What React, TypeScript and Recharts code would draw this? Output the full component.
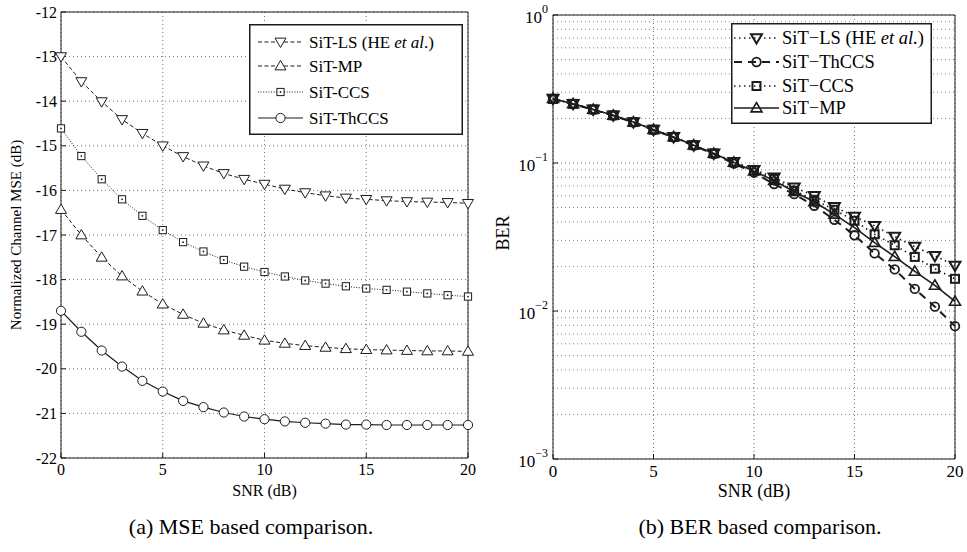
import React from "react";
import {
  CartesianGrid,
  Legend,
  Line,
  LineChart,
  ReferenceLine,
  XAxis,
  YAxis,
} from "recharts";

const FONT = "Liberation Serif, DejaVu Serif, Times New Roman, serif";
const INK = "#1c1c1c";

// SNR (dB) points
const snr = [0, 1, 2, 3, 4, 5, 6, 7, 8, 9, 10, 11, 12, 13, 14, 15, 16, 17, 18, 19, 20];

// (a) normalized channel MSE (dB)
const mseLs = [-13.0, -13.56, -14.01, -14.41, -14.72, -15.0, -15.24, -15.45, -15.62, -15.75, -15.86, -15.97, -16.05, -16.12, -16.17, -16.2, -16.23, -16.25, -16.26, -16.27, -16.29];
const mseMp = [-16.43, -17.0, -17.5, -17.92, -18.26, -18.55, -18.78, -18.98, -19.13, -19.25, -19.36, -19.43, -19.48, -19.52, -19.55, -19.57, -19.58, -19.59, -19.6, -19.6, -19.61];
const mseCcs = [-14.61, -15.23, -15.75, -16.2, -16.57, -16.89, -17.16, -17.37, -17.56, -17.71, -17.83, -17.93, -18.02, -18.09, -18.15, -18.2, -18.23, -18.27, -18.31, -18.35, -18.38];
const mseThccs = [-18.7, -19.17, -19.59, -19.95, -20.27, -20.51, -20.72, -20.86, -20.98, -21.07, -21.13, -21.18, -21.21, -21.23, -21.25, -21.25, -21.26, -21.26, -21.26, -21.26, -21.26];

// (b) BER
const berLs = [0.272, 0.251, 0.23, 0.21, 0.189, 0.168, 0.15, 0.132, 0.116, 0.102, 0.09, 0.08, 0.0684, 0.06, 0.0506, 0.0435, 0.0376, 0.0318, 0.0272, 0.0236, 0.0203];
const berThccs = [0.27, 0.25, 0.229, 0.209, 0.188, 0.167, 0.149, 0.131, 0.115, 0.099, 0.086, 0.072, 0.0616, 0.0514, 0.0413, 0.0325, 0.0245, 0.0191, 0.0141, 0.0107, 0.0079];
const berCcs = [0.271, 0.251, 0.23, 0.21, 0.189, 0.168, 0.15, 0.132, 0.116, 0.101, 0.089, 0.078, 0.065, 0.0564, 0.0483, 0.0407, 0.033, 0.0278, 0.0232, 0.0193, 0.0165];
const berMp = [0.272, 0.251, 0.23, 0.21, 0.189, 0.168, 0.15, 0.132, 0.116, 0.101, 0.088, 0.076, 0.064, 0.0547, 0.045, 0.0366, 0.029, 0.0233, 0.0185, 0.0149, 0.0116];

// axis ticks
const snrTicks = [0, 5, 10, 15, 20];
const mseTicks = [-22, -21, -20, -19, -18, -17, -16, -15, -14, -13, -12];
const berTicks = [0.001, 0.01, 0.1, 1];
const berMinor = [0.002, 0.003, 0.004, 0.005, 0.006, 0.007, 0.008, 0.009, 0.02, 0.03, 0.04, 0.05, 0.06, 0.07, 0.08, 0.09, 0.2, 0.3, 0.4, 0.5, 0.6, 0.7, 0.8, 0.9];

const mseData = snr.map((s, i) => ({ snr: s, ls: mseLs[i], mp: mseMp[i], ccs: mseCcs[i], thccs: mseThccs[i] }));
const berData = snr.map((s, i) => ({ snr: s, ls: berLs[i], thccs: berThccs[i], ccs: berCcs[i], mp: berMp[i] }));

type MarkerStyle = {
  shape: "down" | "up" | "square" | "circle";
  size: number;
  sw: number;
  fill: string;
  center?: boolean;
};

const Marker = ({ cx, cy, m }: { cx: number; cy: number; m: MarkerStyle }) => {
  const s = m.size;
  const common = { stroke: INK, strokeWidth: m.sw, fill: m.fill };
  if (m.shape === "circle") return <circle cx={cx} cy={cy} r={s} {...common} />;
  if (m.shape === "square")
    return (
      <g>
        <rect x={cx - s} y={cy - s} width={s * 2} height={s * 2} {...common} />
        {m.center && <circle cx={cx} cy={cy} r={0.9} fill={INK} />}
      </g>
    );
  const pts =
    m.shape === "down"
      ? `${cx - s},${cy - s * 0.7} ${cx + s},${cy - s * 0.7} ${cx},${cy + s * 1.0}`
      : `${cx - s},${cy + s * 0.7} ${cx + s},${cy + s * 0.7} ${cx},${cy - s * 1.0}`;
  return <polygon points={pts} strokeLinejoin="miter" {...common} />;
};

const dotFor = (m: MarkerStyle) => (p: any) =>
  p.cx == null ? <g key={p.index} /> : <g key={`d-${p.index}`}><Marker cx={p.cx} cy={p.cy} m={m} /></g>;

type Series = {
  key: string;
  label: React.ReactNode;
  dash?: string;
  width: number;
  marker: MarkerStyle;
};

const mseSeries: Series[] = [
  { key: "ls", label: <>SiT-LS (HE <tspan fontStyle="italic">et al</tspan>.)</>, dash: "4 2.5", width: 1, marker: { shape: "down", size: 5.5, sw: 1, fill: "#fff" } },
  { key: "mp", label: "SiT-MP", dash: "4 2.5", width: 1, marker: { shape: "up", size: 5.5, sw: 1, fill: "#fff" } },
  { key: "ccs", label: "SiT-CCS", dash: "1 1.6", width: 1, marker: { shape: "square", size: 3.6, sw: 1, fill: "#fff", center: true } },
  { key: "thccs", label: "SiT-ThCCS", width: 1.2, marker: { shape: "circle", size: 4.6, sw: 1, fill: "#fff" } },
];

const berSeries: Series[] = [
  { key: "ls", label: <>SiT−LS (HE  <tspan fontStyle="italic">et al.</tspan>)</>, dash: "1.5 3.5", width: 1.6, marker: { shape: "down", size: 5.5, sw: 2, fill: "none" } },
  { key: "thccs", label: "SiT−ThCCS", dash: "8 6", width: 2, marker: { shape: "circle", size: 4.3, sw: 1.8, fill: "none" } },
  { key: "ccs", label: "SiT−CCS", dash: "1.5 3.5", width: 1.6, marker: { shape: "square", size: 4, sw: 2, fill: "none" } },
  { key: "mp", label: "SiT−MP", width: 1.6, marker: { shape: "up", size: 5.5, sw: 1.6, fill: "none" } },
];

// legend box drawn as SVG (matlab style)
const LegendBox = ({ series, w, h, rows, x0, x1, tx, fontSize }: any) => (
  <svg width={w} height={h} style={{ display: "block" }}>
    <rect x={0.75} y={0.75} width={w - 1.5} height={h - 1.5} fill="#fff" stroke={INK} strokeWidth={1.5} />
    {series.map((s: Series, i: number) => {
      const y = rows[i];
      return (
        <g key={s.key}>
          <line x1={x0} x2={x1} y1={y} y2={y} stroke={INK} strokeWidth={s.width} strokeDasharray={s.dash} />
          <Marker cx={(x0 + x1) / 2} cy={y} m={s.marker} />
          <text x={tx} y={y} dy="0.35em" fontSize={fontSize} fontFamily={FONT} fill="#000">
            {s.label}
          </text>
        </g>
      );
    })}
  </svg>
);

const PowTick = ({ x, y, payload }: any) => {
  const e = Math.round(Math.log10(payload.value));
  return (
    <text x={x} y={y} textAnchor="end" fontFamily={FONT} fill="#000">
      <tspan fontSize={17} dy={8}>10</tspan>
      <tspan fontSize={12} dy={-10}>{e === 0 ? "0" : "−" + Math.abs(e)}</tspan>
    </text>
  );
};

const tickFont = (size: number) => ({ fill: "#000", fontSize: size, fontFamily: FONT });
const absText = (style: React.CSSProperties, text: string) => (
  <div style={{ position: "absolute", fontFamily: FONT, color: "#000", whiteSpace: "nowrap", lineHeight: 1, ...style }}>{text}</div>
);

export default function App() {
  return (
    <div style={{ position: "absolute", left: 0, top: 0, width: 967, height: 552, background: "#fff", fontFamily: FONT }}>
      {/* (a) MSE */}
      <div style={{ position: "absolute", left: 0, top: 0 }}>
        <LineChart width={480} height={552} data={mseData} margin={{ top: 12, right: 12, bottom: 66, left: 16 }}>
          <CartesianGrid stroke="#555" strokeWidth={0.8} strokeDasharray="1 3" />
          <XAxis
            dataKey="snr"
            type="number"
            domain={[0, 20]}
            ticks={snrTicks}
            height={28}
            tickSize={-5}
            tickMargin={11}
            stroke={INK}
            tick={tickFont(16)}
            label={{ value: "SNR (dB)", position: "bottom", offset: -1, fill: "#000", fontSize: 16, fontFamily: FONT }}
          />
          <XAxis xAxisId="top" orientation="top" type="number" domain={[0, 20]} ticks={snrTicks} mirror tick={false} tickSize={5} stroke={INK} />
          <YAxis type="number" domain={[-22, -12]} ticks={mseTicks} width={45} tickSize={-5} tickMargin={9} stroke={INK} tick={tickFont(16)} />
          <YAxis yAxisId="r" orientation="right" type="number" domain={[-22, -12]} ticks={mseTicks} mirror tick={false} tickSize={5} stroke={INK} />
          {mseSeries.map((s) => (
            <Line
              key={s.key}
              dataKey={s.key}
              type="linear"
              stroke={INK}
              strokeWidth={s.width}
              strokeDasharray={s.dash}
              dot={dotFor(s.marker)}
              activeDot={false}
              isAnimationActive={false}
            />
          ))}
          <Legend
            layout="vertical"
            align="center"
            verticalAlign="middle"
            wrapperStyle={{ left: 249, top: 24, width: 214, height: 111 }}
            content={() => (
              <LegendBox series={mseSeries} w={214} h={111} rows={[18, 42, 68, 94]} x0={9} x1={54} tx={60} fontSize={17} />
            )}
          />
        </LineChart>
      </div>

      {/* (b) BER */}
      <div style={{ position: "absolute", left: 487, top: 0 }}>
        <LineChart width={480} height={552} data={berData} margin={{ top: 15, right: 12, bottom: 65, left: 16 }}>
          <CartesianGrid stroke="#555" strokeWidth={0.8} strokeDasharray="1 3" />
          {berMinor.map((v) => (
            <ReferenceLine key={v} y={v} stroke="#666" strokeWidth={0.8} strokeDasharray="1 3" />
          ))}
          <XAxis
            dataKey="snr"
            type="number"
            domain={[0, 20]}
            ticks={snrTicks}
            height={28}
            tickSize={-5}
            tickMargin={11}
            stroke={INK}
            tick={tickFont(17)}
            label={{ value: "SNR (dB)", position: "bottom", offset: -3, fill: "#000", fontSize: 18, fontFamily: FONT }}
          />
          <XAxis xAxisId="top" orientation="top" type="number" domain={[0, 20]} ticks={snrTicks} mirror tick={false} tickSize={5} stroke={INK} />
          <YAxis scale="log" type="number" domain={[0.001, 1]} ticks={berTicks} width={50} tickSize={-5} tickMargin={10} stroke={INK} tick={<PowTick />} allowDataOverflow />
          {/* minor inward ticks on the left edge */}
          <YAxis yAxisId="lm" orientation="left" scale="log" type="number" domain={[0.001, 1]} ticks={berMinor} mirror tick={false} tickSize={3} stroke={INK} axisLine={false} allowDataOverflow />
          <YAxis yAxisId="r" orientation="right" scale="log" type="number" domain={[0.001, 1]} ticks={[...berTicks, ...berMinor]} mirror tick={false} tickSize={4} stroke={INK} allowDataOverflow />
          {berSeries.map((s) => (
            <Line
              key={s.key}
              dataKey={s.key}
              type="linear"
              stroke={INK}
              strokeWidth={s.width}
              strokeDasharray={s.dash}
              dot={dotFor(s.marker)}
              activeDot={false}
              isAnimationActive={false}
            />
          ))}
          <Legend
            layout="vertical"
            align="center"
            verticalAlign="middle"
            wrapperStyle={{ left: 244, top: 23, width: 201, height: 101 }}
            content={() => (
              <LegendBox series={berSeries} w={201} h={101} rows={[15, 39, 63, 85]} x0={3} x1={48} tx={51} fontSize={18.5} />
            )}
          />
        </LineChart>
      </div>

      {/* axis titles and captions */}
      {absText({ left: 16, top: 235, fontSize: 15, transform: "translate(-50%, -50%) rotate(-90deg)" }, "Normalized Channel MSE (dB)")}
      {absText({ left: 503, top: 233, fontSize: 18, transform: "translate(-50%, -50%) rotate(-90deg)" }, "BER")}
      {absText({ left: 251, top: 527, fontSize: 22, transform: "translate(-50%, -50%)" }, "(a) MSE based comparison.")}
      {absText({ left: 760, top: 527, fontSize: 22, transform: "translate(-50%, -50%)" }, "(b) BER based comparison.")}
    </div>
  );
}
